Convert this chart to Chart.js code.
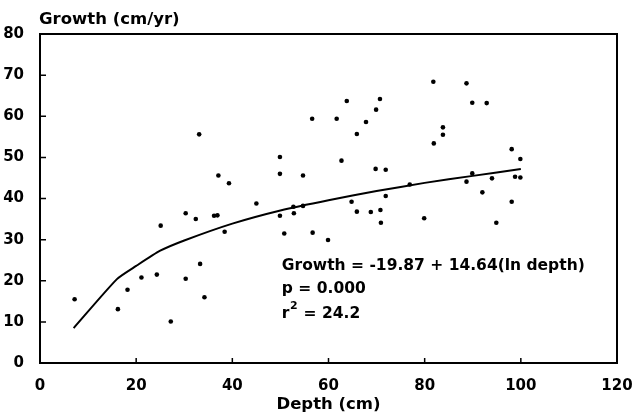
<!DOCTYPE html>
<html>
<head>
<meta charset="utf-8">
<script src="https://cdn.jsdelivr.net/npm/chart.js@4"></script>
<style>
  html, body { margin: 0; padding: 0; background: #fff; }
  #wrap { width: 632px; height: 413px; }
</style>
</head>
<body>
<div id="wrap"><canvas id="growthChart" width="632" height="413"></canvas></div>
<script>
// observed depth / growth pairs
const depth = [
  7.2, 16.2, 18.2, 21.1, 24.3, 25.1, 27.2, 30.3, 30.3, 32.4,
  33.3, 34.2, 33.1, 36.2, 36.9, 38.4, 37.1, 39.3, 45.0, 49.9,
  49.9, 49.9, 50.8, 52.8, 52.7, 54.7, 54.7, 56.6, 56.7, 59.9,
  61.7, 62.7, 63.8, 64.8, 65.9, 65.9, 67.8, 68.8, 69.9, 69.8,
  70.7, 70.8, 70.9, 71.9, 71.9, 76.9, 79.9, 81.8, 81.9, 83.8,
  83.8, 88.7, 88.7, 89.9, 89.9, 92.9, 92.0, 94.0, 94.9, 98.1,
  98.1, 98.8, 99.9, 99.9
];
const growth = [
  15.5, 13.1, 17.8, 20.8, 21.5, 33.4, 10.1, 36.4, 20.5, 35.0,
  24.1, 16.0, 55.6, 35.8, 35.9, 31.9, 45.6, 43.7, 38.8, 50.1,
  46.0, 35.8, 31.5, 36.4, 38.0, 45.6, 38.2, 59.4, 31.7, 29.9,
  59.4, 49.2, 63.7, 39.2, 55.7, 36.8, 58.6, 36.7, 61.6, 47.2,
  64.2, 37.2, 34.1, 47.0, 40.6, 43.4, 35.2, 68.4, 53.4, 57.3,
  55.5, 68.0, 44.1, 63.3, 46.1, 63.2, 41.5, 44.9, 34.1, 52.0,
  39.2, 45.3, 49.6, 45.1
];

// fitted curve as drawn in the figure
const fitDepth = [7, 16, 20, 25, 30, 40, 50, 60, 70, 80, 90, 100];
const fitGrowth = [8.5, 20.4, 23.6, 27.3, 29.8, 33.9, 37.1, 39.6, 41.8, 43.8, 45.5, 47.2];

const xTicks = [0, 20, 40, 60, 80, 100, 120];
const yTicks = [0, 10, 20, 30, 40, 50, 60, 70, 80];

const yTitle = "Growth (cm/yr)";
const xTitle = "Depth (cm)";
const notes = ["Growth = -19.87 + 14.64(ln depth)", "p = 0.000", "r\u00B2 = 24.2"];

const FONT = "DejaVu Sans";

const pts = depth.map((d, i) => ({ x: d, y: growth[i] }));
const fit = fitDepth.map((d, i) => ({ x: d, y: fitGrowth[i] }));

// ticks pointing into the plot, plus the closed frame and the texts
const framePlugin = {
  id: "frame",
  afterDraw(chart) {
    const { ctx, chartArea: a, scales } = chart;
    ctx.save();
    ctx.strokeStyle = "#000";
    ctx.lineWidth = 2;
    ctx.strokeRect(a.left, a.top, a.right - a.left, a.bottom - a.top);

    ctx.lineWidth = 1.5;
    ctx.beginPath();
    xTicks.forEach((v) => {
      const px = scales.x.getPixelForValue(v);
      ctx.moveTo(px, a.bottom);
      ctx.lineTo(px, a.bottom - 5);
    });
    yTicks.forEach((v) => {
      const py = scales.y.getPixelForValue(v);
      ctx.moveTo(a.left, py);
      ctx.lineTo(a.left + 6, py);
    });
    ctx.stroke();

    ctx.fillStyle = "#000";
    ctx.font = "bold 16.5px '" + FONT + "'";
    ctx.textBaseline = "middle";
    ctx.textAlign = "left";
    ctx.fillText(yTitle, a.left - 1, 20);
    ctx.textAlign = "center";
    ctx.fillText(xTitle, (a.left + a.right) / 2, 405);

    ctx.textAlign = "left";
    ctx.font = "bold 15.5px '" + FONT + "'";
    const tx = scales.x.getPixelForValue(50.3);
    ctx.fillText(notes[0], tx, 266);
    ctx.fillText(notes[1], tx, 289);
    // r² with a raised 2
    ctx.fillText("r", tx, 314);
    const rw = ctx.measureText("r").width;
    ctx.font = "bold 11px '" + FONT + "'";
    ctx.fillText("2", tx + rw + 0.5, 306);
    const sw = ctx.measureText("2").width;
    ctx.font = "bold 15.5px '" + FONT + "'";
    ctx.fillText(notes[2].slice(2), tx + rw + sw + 1, 314);
    ctx.restore();
  },
};

new Chart(document.getElementById("growthChart"), {
  type: "scatter",
  data: {
    datasets: [
      {
        label: "Observed",
        data: pts,
        backgroundColor: "#000",
        borderColor: "#000",
        pointRadius: 2.3,
        pointBorderWidth: 0,
      },
      {
        label: "Fit",
        data: fit,
        showLine: true,
        borderColor: "#000",
        borderWidth: 2,
        pointRadius: 0,
        tension: 0.2,
        fill: false,
      },
    ],
  },
  options: {
    responsive: false,
    animation: false,
    events: [],
    layout: { padding: { left: 0, right: 15, top: 34, bottom: 0 } },
    plugins: { legend: { display: false }, tooltip: { enabled: false } },
    scales: {
      x: {
        type: "linear",
        min: 0,
        max: 120,
        afterFit: (s) => {
          s.height = 50;
          s.paddingLeft = 0;
          s.paddingRight = 0;
        },
        afterBuildTicks: (s) => { s.ticks = xTicks.map((v) => ({ value: v })); },
        grid: { display: false },
        border: { display: false },
        ticks: {
          color: "#000",
          padding: 6,
          maxRotation: 0,
          font: { family: FONT, size: 15, weight: "bold" },
        },
      },
      y: {
        type: "linear",
        min: 0,
        max: 80,
        afterFit: (s) => { s.width = 40; },
        afterBuildTicks: (s) => { s.ticks = yTicks.map((v) => ({ value: v })); },
        grid: { display: false },
        border: { display: false },
        ticks: {
          color: "#000",
          padding: 8,
          font: { family: FONT, size: 15, weight: "bold" },
        },
      },
    },
  },
  plugins: [framePlugin],
});
</script>
</body>
</html>
